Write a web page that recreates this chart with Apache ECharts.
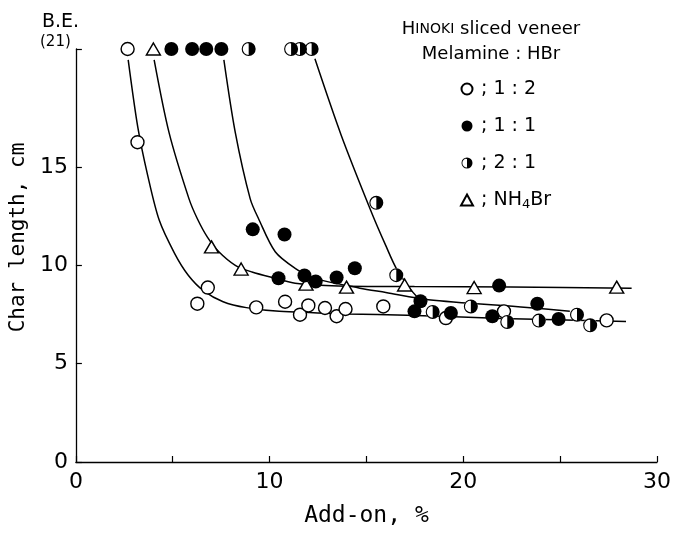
<!DOCTYPE html>
<html><head><meta charset="utf-8">
<script src="https://cdn.jsdelivr.net/npm/echarts@6/dist/echarts.min.js"></script>
<style>html,body{margin:0;padding:0;background:#fff}#c{width:674px;height:533px}</style>
</head><body><div id="c"></div>
<script>
// ---- data ----
const xTickValues = [0, 5, 10, 15, 20, 25, 30];
const xTickLabels = ['0', '', '10', '', '20', '', '30'];
const yTickValues = [0, 5, 10, 15, 21];
const yTickLabels = ['0', '5', '10', '15', ''];

// Melamine : HBr = 1 : 2 (open circles)
const ratio12 = [[2.67,21],[3.18,16.26],[6.27,8.05],[6.81,8.87],[9.31,7.86],[10.8,8.15],[11.57,7.49],[12.0,7.96],[12.86,7.83],[13.46,7.41],[13.92,7.78],[15.87,7.91],[19.1,7.32],[22.1,7.66],[27.4,7.2]];
// 1 : 1 (filled circles)
const ratio11 = [[4.93,21],[6.0,21],[6.73,21],[7.51,21],[9.13,11.83],[10.77,11.57],[10.46,9.34],[11.8,9.48],[12.38,9.18],[13.46,9.38],[14.4,9.85],[17.79,8.17],[17.48,7.66],[19.36,7.58],[21.85,8.97],[21.5,7.41],[23.82,8.05],[24.92,7.27]];
// 2 : 1 (half-filled circles)
const ratio21 = [[8.92,21],[11.11,21],[11.57,21],[12.17,21],[15.51,13.18],[16.54,9.5],[18.42,7.63],[20.39,7.91],[22.27,7.12],[23.9,7.19],[25.87,7.49],[26.55,6.95]];
// NH4Br (triangles)
const nh4br = [[4.0,21],[7.0,10.94],[8.53,9.81],[11.88,9.04],[13.97,8.89],[16.97,9.0],[20.56,8.87],[27.92,8.89]];

// hand-drawn trend curves
const curve12 = [[2.7,20.45],[3.2,17.0],[3.7,14.6],[4.3,12.3],[5.1,10.6],[5.8,9.5],[6.6,8.7],[7.6,8.15],[8.8,7.85],[10.5,7.66],[14,7.53],[17.1,7.46],[22,7.3],[28.4,7.15]];
const curveNH = [[4.04,20.45],[4.81,16.75],[5.84,13.38],[6.27,12.37],[6.78,11.45],[7.38,10.69],[8.23,10.0],[9.09,9.66],[10.29,9.34],[11.32,9.09],[13.54,8.95],[17.48,8.92],[22.44,8.9],[28.69,8.84]];
const curve11 = [[7.64,20.45],[8.23,16.75],[9.0,13.38],[9.43,12.37],[10.29,10.69],[11.32,9.85],[12.3,9.35],[14.66,8.84],[16,8.62],[18.2,8.25],[23.3,7.86],[25.5,7.66]];
const curve21 = [[12.34,20.5],[13.71,16.58],[15.3,12.6],[16.0,11.0],[16.54,9.85],[17.3,8.75],[17.8,8.2]];

const F = '"DejaVu Sans", sans-serif';
const FM = '"DejaVu Sans Mono", monospace';
const halfPath = 'path://M10 0A10 10 0 0 0 10 20L10 18.4A8.4 8.4 0 0 1 10 1.6ZM10 0A10 10 0 0 1 10 20Z';

const lineSeries = (d) => ({
  type: 'line', data: d, smooth: 0.3, showSymbol: false, silent: true,
  lineStyle: {color: '#000', width: 1.5}, z: 1
});

const chart = echarts.init(document.getElementById('c'), null, {renderer: 'canvas'});
chart.setOption({
  animation: false,
  backgroundColor: '#fff',
  title: [
    {text: 'B.E.', left: 37, top: 8, textStyle: {fontFamily: F, fontSize: 19, fontWeight: 'normal', color: '#000'}},
    {text: '(21)', left: 35, top: 30, textStyle: {fontFamily: F, fontSize: 15, fontWeight: 'normal', color: '#000'}},
    {text: '{h|H}{s|INOKI} sliced veneer\nMelamine : HBr', left: 486, top: 12, textAlign: 'center',
     textStyle: {fontFamily: F, fontSize: 18, fontWeight: 'normal', color: '#000', lineHeight: 25,
       rich: {h: {fontFamily: F, fontSize: 18, color: '#000'}, s: {fontFamily: F, fontSize: 14, color: '#000'}}}}
  ],
  legend: {
    orient: 'vertical', left: 455, top: 74,
    data: ['; 1 : 2', '; 1 : 1', '; 2 : 1', '; NH4Br'],
    itemWidth: 12, itemHeight: 11, itemGap: 17, selectedMode: false,
    formatter: n => n === '; NH4Br' ? '; NH{sub|4}Br' : n,
    textStyle: {fontFamily: F, fontSize: 19, lineHeight: 20, color: '#000', padding: [0, 0, 0, 3],
      rich: {sub: {fontFamily: F, fontSize: 13, color: '#000', padding: [9, 0, 0, 0]}}}
  },
  grid: {left: 72, right: 17, top: 49, bottom: 68, containLabel: false},
  xAxis: {
    type: 'value', min: 0, max: 30, interval: 5,
    name: 'Add-on, %', nameLocation: 'middle', nameGap: 43,
    nameTextStyle: {fontFamily: FM, fontSize: 23, color: '#000'},
    axisLine: {lineStyle: {color: '#000', width: 1.3}},
    axisTick: {inside: true, length: 6, lineStyle: {color: '#000', width: 1.2}},
    axisLabel: {fontFamily: F, fontSize: 22, color: '#000', margin: 9,
      formatter: v => { const i = xTickValues.indexOf(v); return i >= 0 ? xTickLabels[i] : ''; }},
    splitLine: {show: false}
  },
  yAxis: {
    type: 'value', min: 0, max: 21, interval: 5,
    name: 'Char length, cm', nameLocation: 'middle', nameGap: 40, nameRotate: 90,
    nameTextStyle: {fontFamily: FM, fontSize: 21, color: '#000', padding: [0, 0, 0, 36]},
    axisLine: {lineStyle: {color: '#000', width: 1.3}},
    axisTick: {inside: true, length: 6, customValues: yTickValues, lineStyle: {color: '#000', width: 1.2}},
    axisLabel: {fontFamily: F, fontSize: 22, color: '#000', margin: 8, customValues: yTickValues,
      formatter: v => { const i = yTickValues.indexOf(v); return i >= 0 ? yTickLabels[i] : ''; }},
    splitLine: {show: false}
  },
  series: [
    lineSeries(curve12), lineSeries(curveNH), lineSeries(curve11), lineSeries(curve21),
    {name: '; NH4Br', type: 'scatter', data: nh4br, symbol: 'triangle', symbolSize: [14, 12], z: 3,
     itemStyle: {color: '#fff', borderColor: '#000', borderWidth: 1.4, opacity: 1}},
    {name: '; 1 : 2', type: 'scatter', data: ratio12, symbol: 'circle', symbolSize: 13, z: 3,
     itemStyle: {color: '#fff', borderColor: '#000', borderWidth: 1.4, opacity: 1}},
    {name: '; 1 : 1', type: 'scatter', data: ratio11, symbol: 'circle', symbolSize: 14, z: 4,
     itemStyle: {color: '#000', opacity: 1}},
    {name: 'half-base', type: 'scatter', data: ratio21, symbol: 'circle', symbolSize: 14, z: 5,
     itemStyle: {color: '#fff', opacity: 1}},
    {name: '; 2 : 1', type: 'scatter', data: ratio21, symbol: halfPath, symbolSize: 14, z: 6,
     itemStyle: {color: '#000', opacity: 1}}
  ]
});
</script></body></html>
